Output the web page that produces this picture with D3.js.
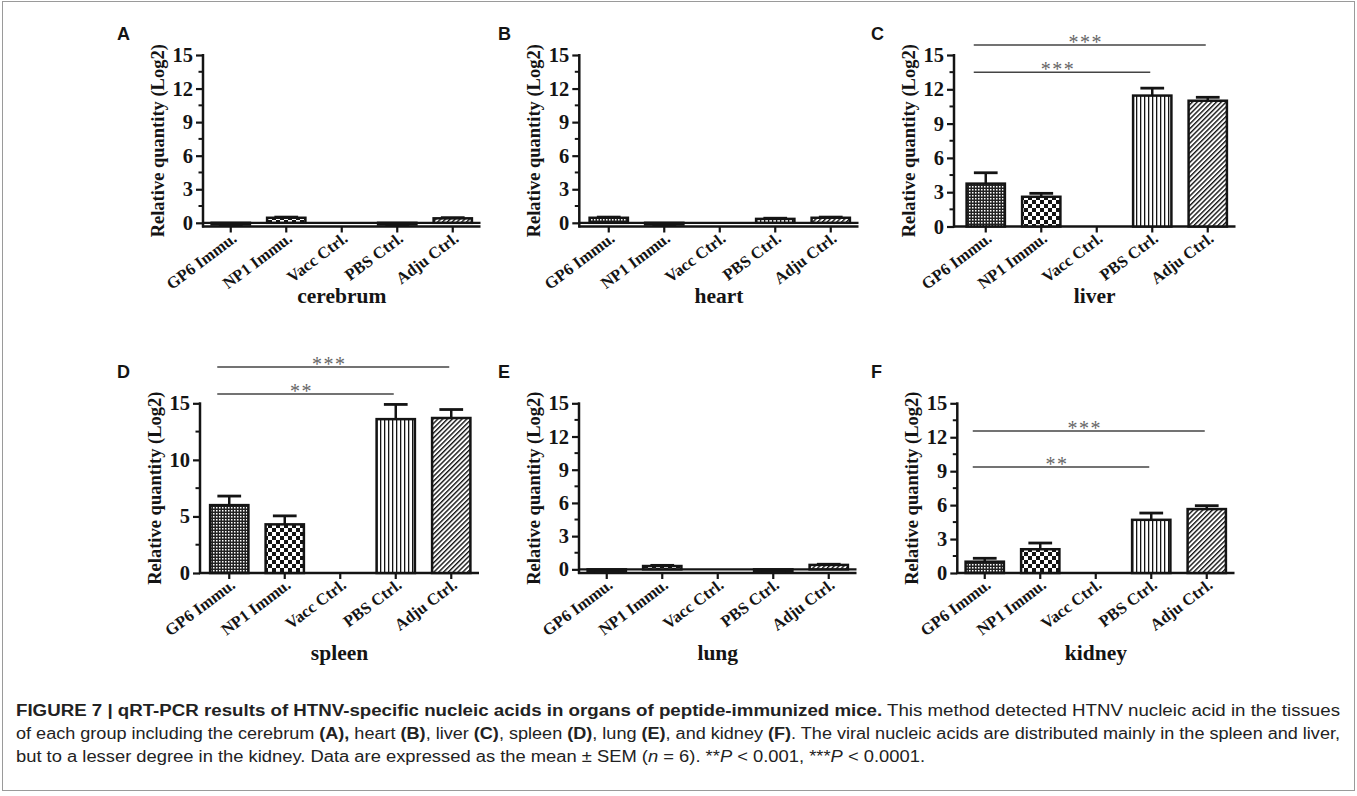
<!DOCTYPE html>
<html><head><meta charset="utf-8">
<script src="https://cdn.jsdelivr.net/npm/d3@7"></script>
<style>body{margin:0;background:#fff}</style>
</head><body><svg id="c" width="1357" height="796"></svg>
<script>
// ---------- data ----------
const categories = ["GP6 Immu.", "NP1 Immu.", "Vacc Ctrl.", "PBS Ctrl.", "Adju Ctrl."];
const organs = ["cerebrum", "heart", "liver", "spleen", "lung", "kidney"];
const panelLetters = ["A", "B", "C", "D", "E", "F"];

const cerebrumMean = [-0.15, 0.45, null, -0.15, 0.40];
const cerebrumSem  = [0.08, 0.06, null, 0.08, 0.06];
const heartMean    = [0.45, -0.15, null, 0.35, 0.45];
const heartSem     = [0.06, 0.08, null, 0.06, 0.06];
const liverMean    = [3.75, 2.60, null, 11.45, 11.00];
const liverSem     = [0.95, 0.30, null, 0.65, 0.30];
const spleenMean   = [6.00, 4.30, null, 13.60, 13.70];
const spleenSem    = [0.80, 0.75, null, 1.30, 0.75];
const lungMean     = [-0.15, 0.30, null, -0.15, 0.40];
const lungSem      = [0.08, 0.06, null, 0.08, 0.06];
const kidneyMean   = [1.00, 2.10, null, 4.70, 5.65];
const kidneySem    = [0.30, 0.55, null, 0.60, 0.30];

const yTicksBy3 = [0, 3, 6, 9, 12, 15];
const yTicksBy5 = [0, 5, 10, 15];

const sigLiver  = [{from: "GP6 Immu.", to: "PBS Ctrl.", label: "***"}, {from: "GP6 Immu.", to: "Adju Ctrl.", label: "***"}];
const sigSpleen = [{from: "GP6 Immu.", to: "PBS Ctrl.", label: "**"},  {from: "GP6 Immu.", to: "Adju Ctrl.", label: "***"}];
const sigKidney = [{from: "GP6 Immu.", to: "PBS Ctrl.", label: "**"},  {from: "GP6 Immu.", to: "Adju Ctrl.", label: "***"}];

// ---------- layout ----------
const svg = d3.select("#c");
const SERIF = "'Liberation Serif','Times New Roman',serif";
const SANS = "'Liberation Sans',Arial,sans-serif";
const INK = "#141414";

const row1 = {top: 55, bottom: 226.5, letterY: 40, titleY: 303};
const row2 = {top: 403.3, bottom: 573, letterY: 378, titleY: 660};

const panels = [
  {mean: cerebrumMean, sem: cerebrumSem, ymin: -0.33, ticks: yTicksBy3, minor: 1.5, axisX: 203,   bandStart: 203,   row: row1, letterX: 117, sig: null, sigY: null},
  {mean: heartMean,    sem: heartSem,    ymin: -0.33, ticks: yTicksBy3, minor: 1.5, axisX: 579.3, bandStart: 581,   row: row1, letterX: 498, sig: null, sigY: null},
  {mean: liverMean,    sem: liverSem,    ymin: 0,     ticks: yTicksBy3, minor: 1.5, axisX: 954,   bandStart: 958,   row: row1, letterX: 871, sig: sigLiver,  sigY: [72.3, 45]},
  {mean: spleenMean,   sem: spleenSem,   ymin: 0,     ticks: yTicksBy5, minor: 2.5, axisX: 200,   bandStart: 201.5, row: row2, letterX: 117, sig: sigSpleen, sigY: [394, 367]},
  {mean: lungMean,     sem: lungSem,     ymin: -0.33, ticks: yTicksBy3, minor: 1.5, axisX: 579,   bandStart: 579,   row: row2, letterX: 498, sig: null, sigY: null},
  {mean: kidneyMean,   sem: kidneySem,   ymin: 0,     ticks: yTicksBy3, minor: 1.5, axisX: 957.3, bandStart: 957,   row: row2, letterX: 871, sig: sigKidney, sigY: [467, 431]}
];
const STEP_TOTAL = 277.5;

// ---------- patterns ----------
const defs = svg.append("defs");
const pFine = defs.append("pattern").attr("id", "pFine").attr("patternUnits", "userSpaceOnUse").attr("width", 3).attr("height", 3);
pFine.append("rect").attr("width", 3).attr("height", 3).attr("fill", "#222");
pFine.append("rect").attr("width", 1.5).attr("height", 1.5).attr("fill", "#fff");
const pChk = defs.append("pattern").attr("id", "pChk").attr("patternUnits", "userSpaceOnUse").attr("width", 8).attr("height", 8);
pChk.append("rect").attr("width", 8).attr("height", 8).attr("fill", "#fff");
pChk.append("rect").attr("width", 4).attr("height", 4).attr("fill", INK);
pChk.append("rect").attr("x", 4).attr("y", 4).attr("width", 4).attr("height", 4).attr("fill", INK);
const pVert = defs.append("pattern").attr("id", "pVert").attr("patternUnits", "userSpaceOnUse").attr("width", 4).attr("height", 4);
pVert.append("rect").attr("width", 4).attr("height", 4).attr("fill", "#fff");
pVert.append("rect").attr("width", 1.3).attr("height", 4).attr("fill", INK);
const pDiag = defs.append("pattern").attr("id", "pDiag").attr("patternUnits", "userSpaceOnUse").attr("width", 3.4).attr("height", 3.4).attr("patternTransform", "rotate(45)");
pDiag.append("rect").attr("width", 3.4).attr("height", 3.4).attr("fill", "#fff");
pDiag.append("rect").attr("width", 1.4).attr("height", 3.4).attr("fill", INK);
const fills = ["url(#pFine)", "url(#pChk)", "none", "url(#pVert)", "url(#pDiag)"];

// ---------- panels ----------
panels.forEach((p, i) => {
  const g = svg.append("g");
  const x = d3.scaleBand().domain(categories).range([p.bandStart, p.bandStart + STEP_TOTAL]).paddingInner(0.31).paddingOuter(0.155);
  const y = d3.scaleLinear().domain([p.ymin, 15]).range([p.row.bottom, p.row.top]);
  const xEnd = p.bandStart + STEP_TOTAL;

  g.append("text").attr("x", p.letterX).attr("y", p.row.letterY).text(panelLetters[i])
    .attr("font-family", SANS).attr("font-weight", "bold").attr("font-size", 18).attr("fill", INK);

  // y axis
  const yAxis = d3.axisLeft(y).tickValues(p.ticks).tickFormat(d3.format("d")).tickSize(7).tickPadding(3);
  const ya = g.append("g").attr("transform", `translate(${p.axisX},0)`).call(yAxis);
  ya.select(".domain").remove();
  ya.append("line").attr("x1", 0).attr("x2", 0).attr("y1", y(p.ymin) + 1).attr("y2", y(15) - 1)
    .attr("stroke", INK).attr("stroke-width", 2.5);
  ya.selectAll(".tick line").attr("stroke", INK).attr("stroke-width", 2.2);
  ya.selectAll(".tick text").attr("font-family", SERIF).attr("font-weight", "bold").attr("font-size", 20.5).attr("fill", INK);
  const minors = d3.range(0, 15, p.minor).filter(v => !p.ticks.includes(v));
  ya.selectAll(".minor").data(minors).join("line").attr("class", "minor")
    .attr("x1", -4.5).attr("x2", 0).attr("y1", d => y(d)).attr("y2", d => y(d))
    .attr("stroke", INK).attr("stroke-width", 2);

  g.append("text").attr("transform", `translate(${p.axisX - 45},${(p.row.top + p.row.bottom) / 2}) rotate(-90)`)
    .attr("text-anchor", "middle").attr("dominant-baseline", "central")
    .attr("font-family", SERIF).attr("font-weight", "bold").attr("font-size", 18.5).attr("fill", INK)
    .text("Relative quantity (Log2)");

  // x axis
  const xAxisY = y(p.ymin);
  const xAxis = d3.axisBottom(x).tickSize(6).tickSizeOuter(0);
  const xa = g.append("g").attr("transform", `translate(0,${xAxisY})`).call(xAxis);
  xa.select(".domain").remove();
  xa.append("line").attr("x1", p.axisX - 1).attr("x2", xEnd).attr("y1", 0).attr("y2", 0)
    .attr("stroke", INK).attr("stroke-width", 2.5);
  xa.selectAll(".tick line").attr("stroke", INK).attr("stroke-width", 2.2);
  xa.selectAll(".tick text")
    .attr("font-family", SERIF).attr("font-weight", "bold").attr("font-size", 16.5).attr("fill", INK)
    .attr("text-anchor", "end").attr("dy", null).attr("y", null)
    .attr("transform", "translate(7,14) rotate(-37)");

  if (p.ymin < 0) {
    g.append("line").attr("x1", p.axisX).attr("x2", xEnd).attr("y1", y(0)).attr("y2", y(0))
      .attr("stroke", INK).attr("stroke-width", 2.2);
  }

  // bars
  const data = categories.map((c, k) => ({c, k, v: p.mean[k], e: p.sem[k]})).filter(d => d.v !== null);
  const bw = x.bandwidth();
  g.selectAll(".bar").data(data).join("rect").attr("class", "bar")
    .attr("x", d => x(d.c)).attr("width", bw)
    .attr("y", d => Math.min(y(d.v), y(0))).attr("height", d => Math.abs(y(d.v) - y(0)))
    .attr("fill", d => fills[d.k]).attr("stroke", INK).attr("stroke-width", 2.5);

  const capW = bw * 0.62;
  data.forEach(d => {
    const sgn = d.v >= 0 ? 1 : -1;
    const cx = x(d.c) + bw / 2;
    const y1 = y(d.v), y2 = y(d.v + sgn * d.e);
    g.append("line").attr("x1", cx).attr("x2", cx).attr("y1", y1).attr("y2", y2).attr("stroke", INK).attr("stroke-width", 2.5);
    g.append("line").attr("x1", cx - capW / 2).attr("x2", cx + capW / 2).attr("y1", y2).attr("y2", y2).attr("stroke", INK).attr("stroke-width", 2.8);
  });

  if (p.sig) {
    p.sig.forEach((s, k) => {
      const x1 = x(s.from) + bw / 2 - 12, x2 = x(s.to) + bw / 2 - 2;
      const ly = p.sigY[k];
      g.append("line").attr("x1", x1).attr("x2", x2).attr("y1", ly).attr("y2", ly).attr("stroke", "#444").attr("stroke-width", 1.6);
      g.append("text").attr("x", (x1 + x2) / 2 - 4).attr("y", ly + 3.5).attr("text-anchor", "middle")
        .attr("font-family", SERIF).attr("font-size", 20).attr("letter-spacing", 1.5).attr("fill", "#666").text(s.label);
    });
  }

  g.append("text").attr("x", (p.axisX + xEnd) / 2).attr("y", p.row.titleY).attr("text-anchor", "middle")
    .attr("font-family", SERIF).attr("font-weight", "bold").attr("font-size", 21.5).attr("fill", INK)
    .text(organs[i]);
});

// ---------- caption ----------
svg.append("rect").attr("x", 2.5).attr("y", 1.5).attr("width", 1352).attr("height", 789)
  .attr("fill", "none").attr("stroke", "#9a9a9a").attr("stroke-width", 1);

const CAP = "'Liberation Sans',Arial,sans-serif";
const capLines = [
  {y: 716, len: 1324, segs: [
    {t: "FIGURE 7 | qRT-PCR results of HTNV-specific nucleic acids in organs of peptide-immunized mice.", b: true},
    {t: " This method detected HTNV nucleic acid in the tissues"}]},
  {y: 739, len: 1324, segs: [
    {t: "of each group including the cerebrum "}, {t: "(A),", b: true}, {t: " heart "}, {t: "(B)", b: true},
    {t: ", liver "}, {t: "(C)", b: true}, {t: ", spleen "}, {t: "(D)", b: true}, {t: ", lung "}, {t: "(E)", b: true},
    {t: ", and kidney "}, {t: "(F)", b: true}, {t: ". The viral nucleic acids are distributed mainly in the spleen and liver,"}]},
  {y: 762, len: 909, segs: [
    {t: "but to a lesser degree in the kidney. Data are expressed as the mean \u00b1 SEM ("}, {t: "n", i: true},
    {t: " = 6). **"}, {t: "P", i: true}, {t: " < 0.001, ***"}, {t: "P", i: true}, {t: " < 0.0001."}]}
];
capLines.forEach(l => {
  const t = svg.append("text").attr("x", 16).attr("y", l.y)
    .attr("font-family", CAP).attr("font-size", 16).attr("fill", "#222")
    .attr("textLength", l.len).attr("lengthAdjust", "spacingAndGlyphs");
  l.segs.forEach(s => t.append("tspan").text(s.t)
    .attr("font-weight", s.b ? "bold" : null).attr("font-style", s.i ? "italic" : null));
});
</script>
</body></html>
